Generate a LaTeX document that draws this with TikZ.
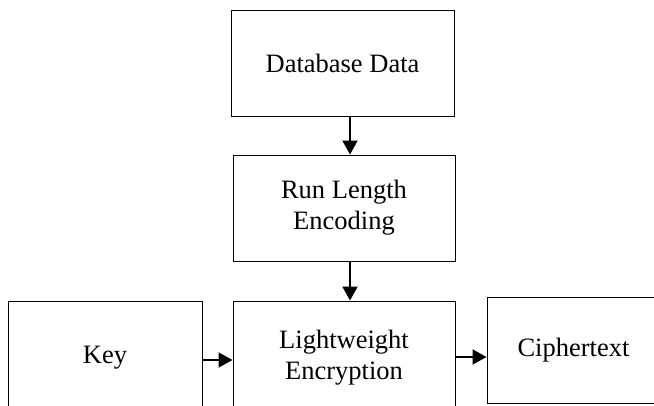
\documentclass[tikz,border=0pt]{standalone}
\usepackage{fontspec}
\setmainfont{Liberation Serif}
\usetikzlibrary{arrows.meta}

\tikzset{
  block/.style={draw=black, line width=1pt, rectangle, align=center,
    inner sep=0pt, minimum height=106pt,
    font=\fontsize{26.5}{31}\selectfont},
  flow/.style={line width=2pt, -{Triangle[length=14pt,width=15pt]}}
}

\begin{document}
\begin{tikzpicture}[x=1pt, y=-1pt]
  \useasboundingbox (0,0) rectangle (654,405);
  \clip (0,0) rectangle (654,405);

  % processing chain
  \node[block, minimum width=223pt] (db)  at (342.5,63) {Database Data};
  \node[block, minimum width=222pt] (rle) at (344,208)  {Run Length\\Encoding};
  \node[block, minimum width=222pt, minimum height=114pt] (enc) at (344,358) {Lightweight\\Encryption};

  % side inputs and output
  \node[block, minimum width=194pt, minimum height=114pt] (key) at (105,358) {Key};
  \node[block, minimum width=173pt] (ct)  at (573.5,350) {\raisebox{-3pt}{Ciphertext}};

  % guide coordinates for the connectors
  \coordinate (vx) at (350,0);
  \coordinate (hk) at (0,360);
  \coordinate (hc) at (0,357);

  \draw[flow] (db.south -| vx)  -- (rle.north -| vx);
  \draw[flow] (rle.south -| vx) -- (enc.north -| vx);
  \draw[flow] (key.east |- hk)  -- (enc.west |- hk);
  \draw[flow] (enc.east |- hc)  -- (ct.west |- hc);
\end{tikzpicture}
\end{document}
